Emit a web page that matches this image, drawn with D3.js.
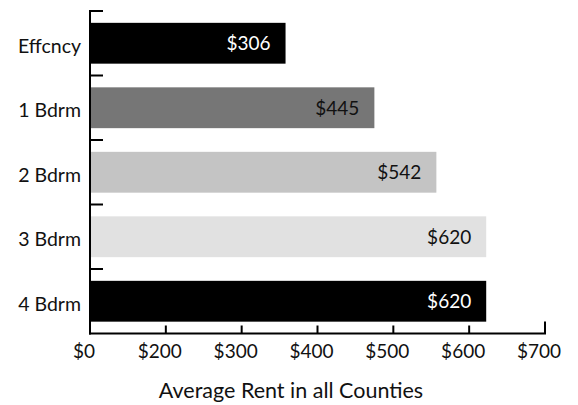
<!DOCTYPE html>
<html>
<head>
<meta charset="utf-8">
<script src="https://cdn.jsdelivr.net/npm/d3@7"></script>
<style>
  html, body { margin: 0; padding: 0; background: #fff; }
  svg { display: block; font-family: Lato, "DejaVu Sans", sans-serif; }
</style>
</head>
<body>
<svg id="chart" width="578" height="405"></svg>
<script>
// Unit types and their average monthly rent
const categories = ["Effcncy", "1 Bdrm", "2 Bdrm", "3 Bdrm", "4 Bdrm"];
const rents = [306, 445, 542, 620, 620];
const barColors = ["#000000", "#767676", "#c4c4c4", "#e1e1e1", "#000000"];
const labelColors = ["#ffffff", "#111111", "#111111", "#111111", "#ffffff"];
// Axis tick labels, spread evenly along the value axis
const tickLabels = ["$0", "$200", "$300", "$400", "$500", "$600", "$700"];
const axisTitle = "Average Rent in all Counties";
const valueMax = 712;

const svg = d3.select("#chart");
const plotLeft = 90, plotRight = 545, plotTop = 11, plotBottom = 333.5;

const x = d3.scaleLinear().domain([0, valueMax]).range([plotLeft, plotRight]);
const y = d3.scaleBand().domain(categories).range([plotTop, plotBottom])
  .paddingInner(0.367).paddingOuter(0.1835);
const xTick = d3.scalePoint().domain(tickLabels).range([plotLeft, plotRight]);

const rows = categories.map((c, i) => ({ c, v: rents[i], fill: barColors[i], tc: labelColors[i] }));

// bars
svg.append("g").selectAll("rect").data(rows).join("rect")
  .attr("x", x(0))
  .attr("y", d => y(d.c))
  .attr("width", d => x(d.v) - x(0))
  .attr("height", y.bandwidth())
  .attr("fill", d => d.fill);

// value labels inside bar ends
svg.append("g").selectAll("text").data(rows).join("text")
  .attr("x", d => x(d.v) - 15)
  .attr("y", d => y(d.c) + y.bandwidth() / 2 + 7)
  .attr("text-anchor", "end")
  .attr("font-size", 19)
  .attr("fill", d => d.tc)
  .text(d => "$" + d.v);

// category labels
svg.append("g").selectAll("text").data(rows).join("text")
  .attr("x", plotLeft - 9)
  .attr("y", d => y(d.c) + y.bandwidth() / 2 + 9.5)
  .attr("text-anchor", "end")
  .attr("font-size", 19.5)
  .attr("fill", "#111")
  .text(d => d.c);

// category axis: line plus ticks on the band boundaries
const half = y.step() * y.paddingInner() / 2;
svg.append("line")
  .attr("x1", plotLeft).attr("x2", plotLeft)
  .attr("y1", y(categories[0]) - half - 1).attr("y2", plotBottom + 1)
  .attr("stroke", "#000").attr("stroke-width", 2);
svg.append("g").selectAll("line").data(categories).join("line")
  .attr("x1", plotLeft).attr("x2", plotLeft + 13)
  .attr("y1", d => y(d) - half).attr("y2", d => y(d) - half)
  .attr("stroke", "#000").attr("stroke-width", 2);

// value axis: line, upward ticks, labels
svg.append("line")
  .attr("x1", plotLeft - 1).attr("x2", plotRight + 1)
  .attr("y1", plotBottom).attr("y2", plotBottom)
  .attr("stroke", "#000").attr("stroke-width", 2);
svg.append("g").selectAll("line").data(tickLabels).join("line")
  .attr("x1", d => xTick(d)).attr("x2", d => xTick(d))
  .attr("y1", (d, i) => i === tickLabels.length - 1 ? plotBottom - 12 : plotBottom - 8)
  .attr("y2", plotBottom)
  .attr("stroke", "#000").attr("stroke-width", 2);
svg.append("g").selectAll("text").data(tickLabels).join("text")
  .attr("x", d => xTick(d) - 6)
  .attr("y", 358)
  .attr("text-anchor", "middle")
  .attr("font-size", 19)
  .attr("fill", "#111")
  .text(d => d);

// axis title
svg.append("text")
  .attr("x", 291)
  .attr("y", 398)
  .attr("text-anchor", "middle")
  .attr("font-size", 21.5)
  .attr("fill", "#111")
  .text(axisTitle);
</script>
</body>
</html>
